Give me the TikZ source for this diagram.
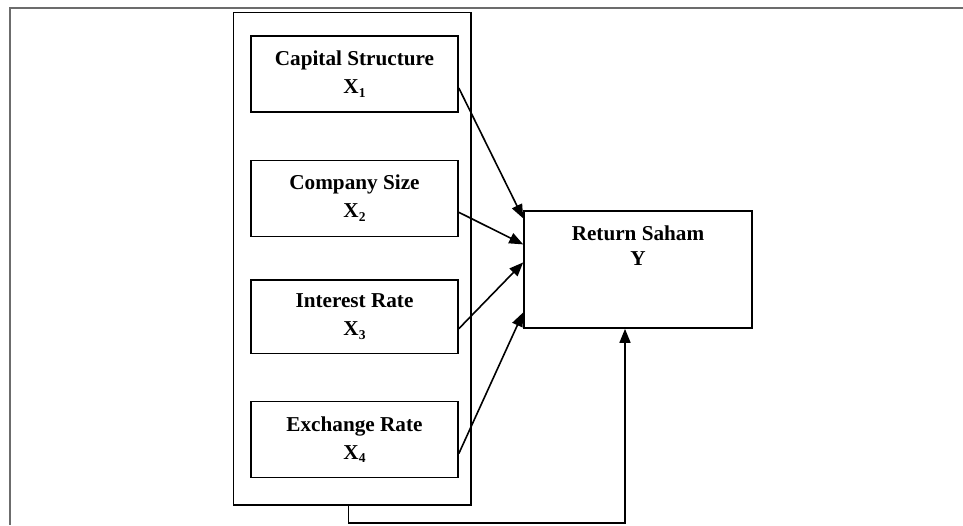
\documentclass[tikz,border=0pt]{standalone}
\usepackage{fontspec}
\setmainfont{Liberation Serif}
\usetikzlibrary{arrows.meta,calc}
\newcommand{\sbx}[1]{\raisebox{-3.5pt}{\fontsize{13.5}{13.5}\selectfont #1}}
\tikzset{
  varbox/.style={draw, line width=1.6pt, minimum width=207pt, minimum height=76pt, inner sep=0pt,
    font=\fontsize{21.2}{28}\selectfont\bfseries, align=center},
  grpbox/.style={draw, line width=1.6pt},
  conn/.style={line width=1.6pt, -{Triangle[length=14pt,width=11pt]}},
}
\begin{document}
\begin{tikzpicture}[x=1pt,y=-1pt]
\useasboundingbox (0,0) rectangle (963,525);
% outer frame
\draw[gray!85!black, line width=2pt] (963,7.5) -- (10,7.5) -- (10,525);
% group box
\node[grpbox, minimum width=237.5pt, minimum height=492.5pt, inner sep=0pt] (grp) at (352.25,258.75) {};
% variable boxes
\node[varbox] (b1) at (354.5,74) {Capital Structure\\X\sbx{1}};
\node[varbox] (b2) at (354.5,198.3) {Company Size\\X\sbx{2}};
\node[varbox, minimum height=73.3pt] (b3) at (354.5,316.7) {Interest Rate\\X\sbx{3}};
\node[varbox] (b4) at (354.5,439.6) {Exchange Rate\\X\sbx{4}};
% dependent box
\node[draw, line width=1.6pt, minimum width=228pt, minimum height=117.3pt, inner sep=0pt] (y) at (638,269.4) {};
\node[font=\fontsize{21.2}{25}\selectfont\bfseries, align=center, inner sep=0pt] (ylab) at (638,246) {Return Saham\\Y};
% connectors
\draw[conn] ($(b1.east)+(0,14)$) -- ($(y.west)+(0,-51)$);
\draw[conn] ($(b2.east)+(0,14)$) -- ($(y.west)+(0,-25)$);
\draw[conn] ($(b3.east)+(0,12)$) -- ($(y.west)+(0,-7)$);
\draw[conn] ($(b4.east)+(0,14)$) -- ($(y.west)+(0,43)$);
\coordinate (c1) at (348.3,523);
\coordinate (c2) at (625,523);
\draw[conn] (grp.south -| c1) -- (c1) -- (c2) -- (y.south -| c2);
\end{tikzpicture}
\end{document}
